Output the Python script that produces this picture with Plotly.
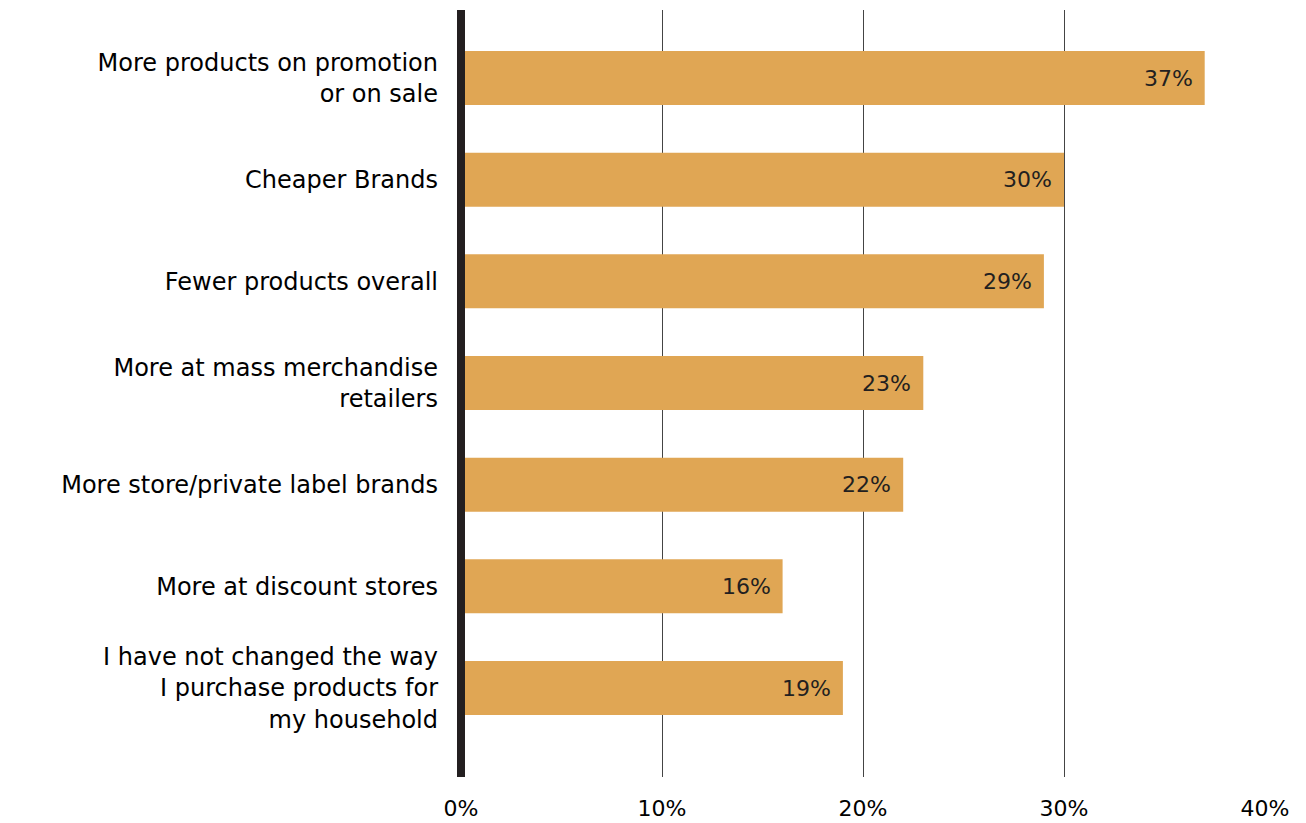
import plotly.graph_objects as go

categories = [
    "More products on promotion<br>or on sale",
    "Cheaper Brands",
    "Fewer products overall",
    "More at mass merchandise<br>retailers",
    "More store/private label brands",
    "More at discount stores",
    "I have not changed the way<br>I purchase products for<br>my household",
]
values = [37, 30, 29, 23, 22, 16, 19]
x_ticks = [0, 10, 20, 30, 40]
x_tick_labels = ["0%", "10%", "20%", "30%", "40%"]

FONT = "DejaVu Sans, sans-serif"
BAR_COLOR = "#E0A654"
TEXT_DARK = "#231F20"

fig = go.Figure()
fig.add_trace(go.Bar(
    x=values,
    y=categories,
    orientation="h",
    marker=dict(color=BAR_COLOR, line=dict(width=0)),
    width=0.531,
    hoverinfo="skip",
))

for c, v in zip(categories, values):
    fig.add_annotation(
        x=v, y=c, text=f"{v}%", showarrow=False,
        xanchor="right", xshift=-10,
        font=dict(family=FONT, size=22, color=TEXT_DARK),
    )

fig.add_shape(
    type="line", xref="paper", yref="paper", x0=0, x1=0, y0=0, y1=1,
    line=dict(color=TEXT_DARK, width=8), layer="above",
)

fig.update_layout(
    width=1306, height=823,
    margin=dict(l=461, r=41, t=10, b=46),
    paper_bgcolor="white", plot_bgcolor="white",
    showlegend=False,
    font=dict(family=FONT, size=22, color="#000000"),
)
fig.update_xaxes(
    range=[0, 40], automargin=False,
    tickvals=x_ticks, ticktext=x_tick_labels,
    showgrid=True, gridcolor="#444444", gridwidth=1,
    zeroline=False, showline=False,
    ticks="outside", ticklen=12, tickcolor="rgba(0,0,0,0)",
    tickfont=dict(family=FONT, size=22, color="#000000"),
    fixedrange=True,
)
fig.update_yaxes(
    categoryorder="array", categoryarray=categories,
    range=[6.875, -0.669], automargin=False,
    showgrid=False, zeroline=False, showline=False,
    ticks="", ticklabelstandoff=22,
    tickfont=dict(family=FONT, size=24, color="#000000"),
    fixedrange=True,
)

fig.write_html("out.html")
